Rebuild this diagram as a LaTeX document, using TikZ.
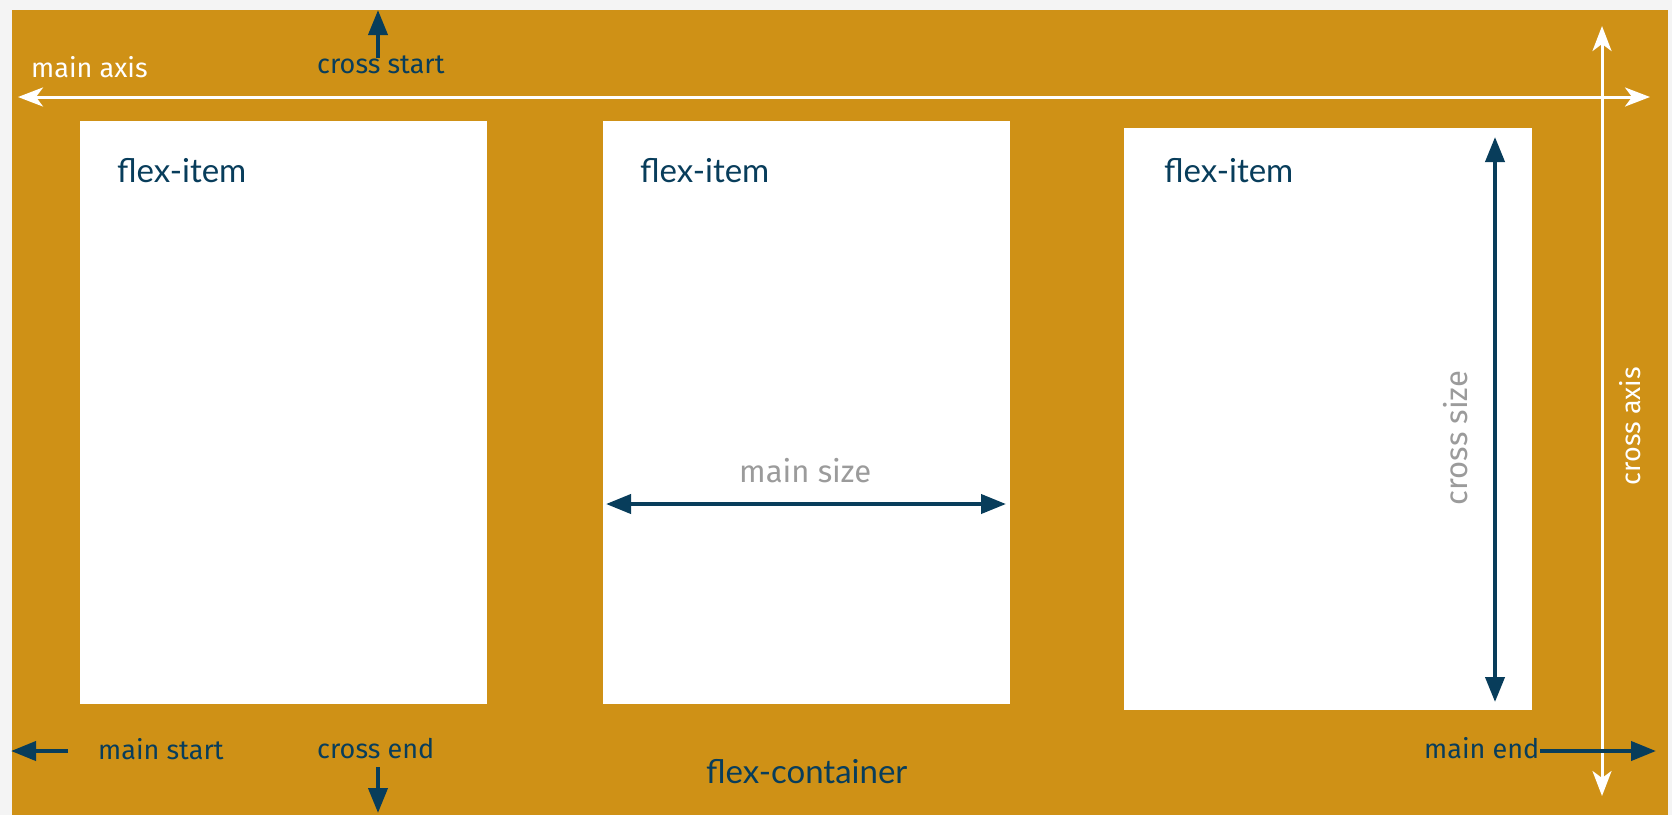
\documentclass[tikz,border=0pt]{standalone}
\usepackage{fontspec}
\setmainfont{Fira Sans}
\newfontfamily\itemfont{Lato}
\usetikzlibrary{arrows.meta}
\definecolor{flexorange}{HTML}{CF9116}
\definecolor{flexblue}{HTML}{083D5B}
\definecolor{sizegray}{HTML}{9B9B9B}
\definecolor{pagegray}{HTML}{F4F4F4}
\tikzset{
  axisline/.style={draw=white, line width=3pt,
    {Stealth[length=25pt,width=19pt,inset=7pt]}-{Stealth[length=25pt,width=19pt,inset=7pt]}},
  dirline/.style={draw=flexblue, line width=4pt, -{Triangle[length=25pt,width=19pt]}},
  sizeline/.style={draw=flexblue, line width=4pt,
    {Triangle[length=25pt,width=19pt]}-{Triangle[length=25pt,width=19pt]}},
  lbl/.style={font=\fontsize{27}{30}\selectfont, inner sep=0pt, anchor=base west},
  sizelbl/.style={font=\fontsize{31}{34}\selectfont, text=sizegray, inner sep=0pt},
  itembox/.style={fill=white, inner sep=0pt, anchor=north west},
  itemtxt/.style={font=\itemfont\fontsize{33}{38}\selectfont, text=flexblue, inner sep=0pt, anchor=base west},
}
\begin{document}
\begin{tikzpicture}[x=1pt, y=-1pt]
    \useasboundingbox (0,0) rectangle (1672,815);
    \fill[pagegray] (0,0) rectangle (1672,815);
    \fill[flexorange] (12,10) rectangle (1668,815);

    % flex items
    \node[itembox, minimum width=407pt, minimum height=583pt] (itemA) at (80,121) {};
    \node[itembox, minimum width=407pt, minimum height=583pt] (itemB) at (603,121) {};
    \node[itembox, minimum width=408pt, minimum height=582pt] (itemC) at (1124,128) {};
    \node[itemtxt] (itemAtxt) at (117,182) {flex-item};
    \node[itemtxt] (itemBtxt) at (640,182) {flex-item};
    \node[itemtxt] (itemCtxt) at (1164,182) {flex-item};
    \node[itemtxt] (container) at (706,783) {flex-container};

    % axes
    \coordinate (maL) at (18,97);
    \coordinate (maR) at (1650,97);
    \coordinate (caT) at (1602,26);
    \coordinate (caB) at (1602,796);
    \draw[axisline] (maL) -- (maR);
    \draw[axisline] (caT) -- (caB);
    \node[lbl, text=white] (mainaxis) at (31,77) {main axis};
    \node[lbl, text=white, rotate=90, anchor=base] (crossaxis) at (1640,426) {cross axis};

    % start and end
    \node[lbl, text=flexblue] (crossstart) at (317,73) {cross start};
    \coordinate (csA) at (378,58);
    \coordinate (csB) at (378,10);
    \draw[dirline] (csA) -- (csB);
    \node[lbl, text=flexblue] (crossend) at (317,758) {cross end};
    \coordinate (ceA) at (378,767);
    \coordinate (ceB) at (378,813);
    \draw[dirline] (ceA) -- (ceB);
    \node[lbl, text=flexblue] (mainstart) at (98,759) {main start};
    \coordinate (msA) at (68,751);
    \coordinate (msB) at (11,751);
    \draw[dirline] (msA) -- (msB);
    \node[lbl, text=flexblue] (mainend) at (1424,758) {main end};
    \coordinate (meA) at (1540,751);
    \coordinate (meB) at (1656,751);
    \draw[dirline] (meA) -- (meB);

    % sizes
    \coordinate (szL) at (606,504);
    \coordinate (szR) at (1006,504);
    \draw[sizeline] (szL) -- (szR);
    \node[sizelbl, anchor=base west] (mainsize) at (739,482) {main size};
    \coordinate (czT) at (1495,137);
    \coordinate (czB) at (1495,702);
    \draw[sizeline] (czT) -- (czB);
    \node[sizelbl, rotate=90, anchor=base] (crosssize) at (1467,438) {cross size};
\end{tikzpicture}
\end{document}
